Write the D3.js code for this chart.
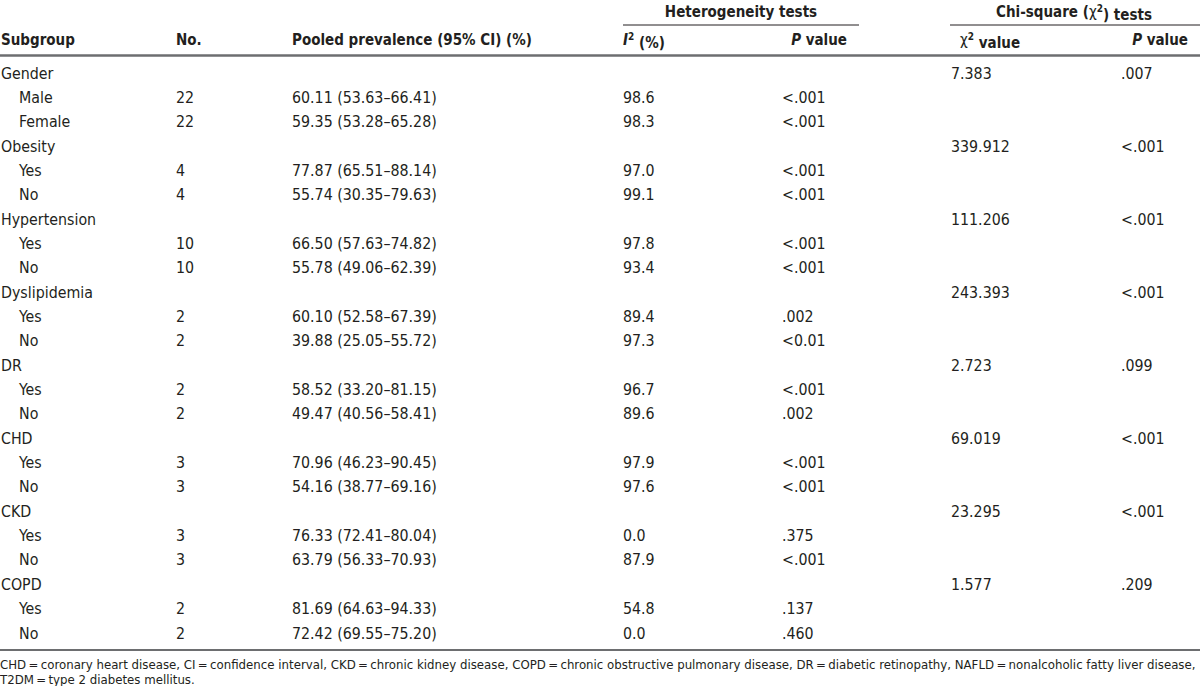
<!DOCTYPE html>
<html><head><meta charset="utf-8">
<script src="https://cdn.jsdelivr.net/npm/d3@7"></script>
<style>
body{margin:0;background:#fff;}
svg text{font-family:"Liberation Sans Narrow","DejaVu Sans Condensed","Arial Narrow",sans-serif;fill:#231f20;}
</style></head><body>
<svg id="chart" width="1200" height="686"></svg>
<script>
const subgroups = ["Gender","Obesity","Hypertension","Dyslipidemia","DR","CHD","CKD","COPD"];
const levels = [["Male","Female"],["Yes","No"],["Yes","No"],["Yes","No"],["Yes","No"],["Yes","No"],["Yes","No"],["Yes","No"]];
const studyCounts = [[22,22],[4,4],[10,10],[2,2],[2,2],[3,3],[3,3],[2,2]];
const pooled = [["60.11 (53.63–66.41)","59.35 (53.28–65.28)"],["77.87 (65.51–88.14)","55.74 (30.35–79.63)"],["66.50 (57.63–74.82)","55.78 (49.06–62.39)"],["60.10 (52.58–67.39)","39.88 (25.05–55.72)"],["58.52 (33.20–81.15)","49.47 (40.56–58.41)"],["70.96 (46.23–90.45)","54.16 (38.77–69.16)"],["76.33 (72.41–80.04)","63.79 (56.33–70.93)"],["81.69 (64.63–94.33)","72.42 (69.55–75.20)"]];
const i2Values = [["98.6","98.3"],["97.0","99.1"],["97.8","93.4"],["89.4","97.3"],["96.7","89.6"],["97.9","97.6"],["0.0","87.9"],["54.8","0.0"]];
const hetP = [["<.001","<.001"],["<.001","<.001"],["<.001","<.001"],[".002","<0.01"],["<.001",".002"],["<.001","<.001"],[".375","<.001"],[".137",".460"]];
const chiValues = ["7.383","339.912","111.206","243.393","2.723","69.019","23.295","1.577"];
const chiP = [".007","<.001","<.001","<.001",".099","<.001","<.001",".209"];
const footnote = ["CHD\u2009=\u2009coronary heart disease, CI\u2009=\u2009confidence interval, CKD\u2009=\u2009chronic kidney disease, COPD\u2009=\u2009chronic obstructive pulmonary disease, DR\u2009=\u2009diabetic retinopathy, NAFLD\u2009=\u2009nonalcoholic fatty liver disease,","T2DM\u2009=\u2009type 2 diabetes mellitus."];

// build rows
const rows = [];
subgroups.forEach((g,gi)=>{
  rows.push({type:"group",label:g,chi:chiValues[gi],chiP:chiP[gi]});
  levels[gi].forEach((l,li)=>{
    rows.push({type:"level",label:l,n:studyCounts[gi][li],pooled:pooled[gi][li],i2:i2Values[gi][li],p:hetP[gi][li]});
  });
});

const svg = d3.select("#chart");
svg.append("rect").attr("width",1200).attr("height",686).attr("fill","#fff");

const y = d3.scalePoint().domain(d3.range(rows.length)).range([73,633]);
const fs = 15.8;
const col = {sub:1, lvl:19, n:176, pooled:292, i2:623, p:782, chi:951, chiP:1121};

const g = svg.append("g");
const T = (x,yy,txt,opts={})=>{
  const t = g.append("text").attr("x",x).attr("y",yy).attr("dy","0.35em")
    .attr("font-size",opts.size||fs).text(txt);
  if(opts.bold) t.attr("font-weight","bold");
  if(opts.anchor) t.attr("text-anchor",opts.anchor);
  return t;
};

// Header
const hs = 15;
const h1 = 12, h2 = 40;
T(741,h1,"Heterogeneity tests",{bold:true,anchor:"middle",size:hs});
const chiHead = g.append("text").attr("x",1074).attr("y",h1).attr("dy","0.35em").attr("font-size",hs).attr("font-weight","bold").attr("text-anchor","middle");
chiHead.append("tspan").text("Chi-square (");
chiHead.append("tspan").attr("font-weight","normal").text("\u03c7");
chiHead.append("tspan").attr("font-size",10).attr("dy","-0.5em").text("2");
chiHead.append("tspan").attr("dy","0.5em").text(") tests");

g.append("line").attr("x1",623).attr("x2",859).attr("y1",25).attr("y2",25).attr("stroke","#231f20").attr("stroke-width",1);
g.append("line").attr("x1",950).attr("x2",1200).attr("y1",25).attr("y2",25).attr("stroke","#231f20").attr("stroke-width",1);

T(col.sub,h2,"Subgroup",{bold:true,size:hs});
T(col.n,h2,"No.",{bold:true,size:hs});
T(col.pooled,h2,"Pooled prevalence (95% CI) (%)",{bold:true,size:hs});
const i2h = g.append("text").attr("x",col.i2).attr("y",h2).attr("dy","0.35em").attr("font-size",hs).attr("font-weight","bold");
i2h.append("tspan").attr("font-style","italic").text("I");
i2h.append("tspan").attr("font-size",10).attr("dy","-0.5em").text("2");
i2h.append("tspan").attr("dy","0.5em").text(" (%)");
const ph = g.append("text").attr("x",847).attr("y",h2).attr("dy","0.35em").attr("font-size",hs).attr("font-weight","bold").attr("text-anchor","end");
ph.append("tspan").attr("font-style","italic").text("P");
ph.append("tspan").text(" value");
const ch = g.append("text").attr("x",960).attr("y",h2).attr("dy","0.35em").attr("font-size",hs).attr("font-weight","bold");
ch.append("tspan").attr("font-weight","normal").text("\u03c7");
ch.append("tspan").attr("font-size",10).attr("dy","-0.5em").text("2");
ch.append("tspan").attr("dy","0.5em").text(" value");
const ph2 = g.append("text").attr("x",1188).attr("y",h2).attr("dy","0.35em").attr("font-size",hs).attr("font-weight","bold").attr("text-anchor","end");
ph2.append("tspan").attr("font-style","italic").text("P");
ph2.append("tspan").text(" value");

g.append("line").attr("x1",0).attr("x2",1200).attr("y1",55.5).attr("y2",55.5).attr("stroke","#6d6e70").attr("stroke-width",2.5);

// Body rows
rows.forEach((r,i)=>{
  const yy = y(i);
  if(r.type==="group"){
    T(col.sub,yy,r.label);
    T(col.chi,yy,r.chi);
    T(col.chiP,yy,r.chiP);
  } else {
    T(col.lvl,yy,r.label);
    T(col.n,yy,r.n);
    T(col.pooled,yy,r.pooled);
    T(col.i2,yy,r.i2);
    T(col.p,yy,r.p);
  }
});

g.append("line").attr("x1",0).attr("x2",1200).attr("y1",650).attr("y2",650).attr("stroke","#6d6e70").attr("stroke-width",2);

footnote.forEach((f,i)=>{
  T(0,664+i*15.5,f,{size:13.1});
});
</script>
</body></html>
